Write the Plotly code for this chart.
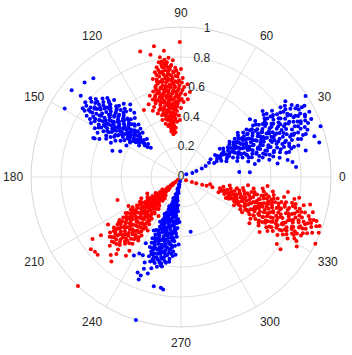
import plotly.graph_objects as go

# ---- angular / radial tick labels ----
ang_tickvals = [0, 30, 60, 90, 120, 150, 180, 210, 240, 270, 300, 330]
ang_ticktext = ["0", "30", "60", "90", "120", "150", "180", "210", "240", "270", "300", "330"]
r_tickvals = [0, 0.2, 0.4, 0.6, 0.8, 1.0]
r_ticktext = ["0", "0.2", "0.4", "0.6", "0.8", "1"]
r_label_angle = 80

# ---- point estimates (theta deg, r) ----
red_top = [
    (100, .29), (97, .30), (102, .31), (99, .32),
    (96, .33), (101, .34), (104, .35), (98, .35), (100, .36),
    (94, .37), (97, .38), (100, .38), (103, .39), (106, .37), (99, .40),
    (92, .41), (95, .42), (98, .43), (101, .41), (104, .42), (107, .43), (100, .44), (96, .45),
    (90, .46), (93, .47), (96, .46), (99, .47), (102, .45), (105, .46), (108, .47), (110, .45), (94, .48), (101, .49),
    (88, .50), (91, .51), (94, .50), (97, .52), (100, .50), (103, .51), (106, .50), (109, .52), (111, .50), (98, .53), (92, .53), (104, .54),
    (87, .55), (90, .56), (93, .55), (96, .56), (99, .55), (102, .57), (105, .55), (108, .56), (110, .55), (95, .58), (101, .59), (106, .58), (89, .58),
    (88, .60), (91, .61), (94, .60), (97, .62), (100, .60), (103, .61), (106, .62), (108, .60), (92, .63), (99, .64), (104, .64), (96, .65),
    (89, .66), (92, .67), (95, .66), (98, .68), (101, .66), (104, .67), (106, .68), (100, .70), (94, .70), (97, .71),
    (90, .72), (93, .73), (96, .72), (99, .74), (102, .73), (104, .72), (95, .75), (100, .76), (97, .77),
    (94, .78), (98, .79), (101, .78), (96, .80),
    (85, .52), (113, .48), (86, .62), (111, .58), (108, .40), (91, .38), (114, .53), (84, .57),
    (100.6, 1.01), (90.5, .90), (108, .88), (101.7, .89), (97.7, .85), (100, .81), (119, .51), (104, .84),
]
red_top_core = [
    (98.5, .31), (101.5, .33), (97.5, .34), (99.5, .37), (102.5, .36), (95.5, .39), (98.5, .41), (101.5, .40),
    (104.5, .40), (96.5, .43), (99.5, .42), (102.5, .44), (93.5, .44), (105.5, .44), (97.5, .46), (100.5, .46),
    (103.5, .48), (95.5, .47), (98.5, .49), (106.5, .48), (92.5, .49), (99.5, .51), (102.5, .52), (95.5, .52),
    (105.5, .52), (89.5, .52), (108.5, .54), (97.5, .54), (100.5, .55), (93.5, .57), (103.5, .56), (98.5, .57),
    (91.5, .59), (96.5, .60), (104.5, .59), (100.5, .58), (107.5, .57), (94.5, .62), (101.5, .62), (98.5, .61),
    (89.5, .63), (105.5, .63), (93.5, .64), (102.5, .65), (97.5, .66), (91.5, .69), (95.5, .68), (99.5, .69),
    (103.5, .70), (92.5, .71), (98.5, .72), (101.5, .71), (95.5, .74), (97.5, .75), (102.5, .75), (99.5, .78),
]
red_top_core2 = [
    (99.2, .335), (97.8, .365), (100.8, .385), (96.2, .405), (102.2, .415), (99.2, .435), (94.8, .455), (101.2, .455),
    (104.2, .465), (97.2, .475), (100.2, .485), (93.2, .505), (96.2, .495), (102.2, .505), (105.2, .515), (98.8, .515),
    (91.2, .545), (94.2, .535), (97.2, .545), (100.2, .535), (103.2, .545), (106.8, .535), (95.8, .565), (101.8, .565),
    (104.8, .575), (92.2, .575), (98.2, .585), (93.8, .605), (96.8, .615), (99.8, .615), (102.8, .605), (105.8, .605),
    (91.2, .645), (95.2, .635), (98.2, .645), (101.2, .645), (104.2, .655), (93.2, .675), (96.2, .685), (99.2, .665),
    (102.2, .685), (94.2, .705), (97.2, .695), (100.2, .715), (96.8, .735), (99.8, .745), (98.2, .765),
]

blue_upper_left = [
    (136, .28), (138, .30), (135, .31), (139, .32),
    (132, .34), (135, .35), (138, .34), (141, .36), (143, .35), (137, .37),
    (131, .39), (134, .40), (137, .41), (140, .39), (143, .40), (146, .41), (136, .43), (142, .43),
    (129, .45), (132, .46), (135, .44), (138, .45), (141, .46), (144, .44), (147, .45), (149, .47), (139, .48), (133, .48),
    (128, .50), (131, .51), (134, .50), (137, .52), (140, .50), (143, .51), (146, .50), (149, .52), (151, .50), (136, .54), (142, .54), (147, .55),
    (127, .56), (130, .57), (133, .56), (136, .58), (139, .56), (142, .57), (145, .56), (148, .58), (151, .57), (153, .56), (138, .60), (144, .60), (132, .60),
    (128, .62), (131, .63), (134, .62), (137, .64), (140, .62), (143, .63), (146, .62), (149, .64), (152, .63), (139, .66), (145, .66), (135, .67),
    (131, .68), (134, .69), (137, .68), (140, .70), (143, .68), (146, .69), (149, .70), (141, .72), (136, .72), (144, .73),
    (135, .74), (138, .75), (141, .74), (144, .76), (147, .75), (140, .78), (143, .79),
    (139, .80), (142, .81), (145, .80),
    (126, .53), (155, .60), (125, .59), (154, .52), (150, .42), (130, .42), (156, .64), (133, .72),
    (139, 1.02), (149.5, .90), (141.6, .93), (135.6, .90), (131.6, .88), (156, .63), (159, .49), (157, .44), (141, .86),
]
blue_upper_left_core = [
    (137.5, .33), (139.5, .38), (135.5, .38), (142.5, .38), (138.5, .42), (133.5, .42), (144.5, .42), (140.5, .44),
    (136.5, .46), (142.5, .47), (145.5, .47), (131.5, .47), (138.5, .50), (135.5, .49), (141.5, .52), (144.5, .53),
    (132.5, .53), (147.5, .52), (139.5, .54), (134.5, .55), (150.5, .54), (137.5, .57), (140.5, .58), (143.5, .58),
    (129.5, .59), (146.5, .59), (149.5, .60), (135.5, .61), (141.5, .61), (132.5, .64), (138.5, .63), (144.5, .64),
    (147.5, .65), (150.5, .66), (136.5, .66), (142.5, .67), (133.5, .70), (139.5, .71), (145.5, .71), (147.5, .72),
    (138.5, .73), (142.5, .76), (137.5, .77), (145.5, .78),
]
blue_upper_left_core2 = [
    (138.2, .355), (136.2, .395), (140.8, .405), (134.8, .435), (138.8, .445), (142.8, .445), (137.2, .475), (140.2, .465),
    (144.2, .485), (134.2, .495), (139.8, .505), (142.8, .495), (146.8, .505), (132.8, .515), (137.2, .515), (140.8, .535),
    (145.2, .545), (135.2, .535), (138.2, .555), (143.2, .555), (148.2, .565), (131.8, .575), (134.8, .585), (141.2, .595),
    (146.2, .605), (137.2, .605), (144.2, .615), (133.2, .625), (139.2, .635), (142.2, .645), (148.2, .625), (135.8, .655),
    (141.2, .675), (145.2, .665), (138.2, .685), (134.2, .675), (143.2, .705), (147.2, .685), (137.2, .705), (141.8, .735),
    (139.2, .755), (144.2, .745),
]

blue_right = [
    (28, .04), (19, .08), (21, .11), (22, .15), (24, .18), (27, .21), (31, .23), (23, .24),
    (24, .26), (27, .27), (30, .28), (33, .27), (28, .30), (22, .29),
    (19, .32), (22, .33), (25, .34), (28, .32), (31, .33), (34, .34), (36, .32), (26, .36),
    (16, .39), (19, .40), (22, .41), (25, .39), (28, .40), (31, .41), (34, .39), (36, .40), (21, .43), (27, .43), (32, .44),
    (13, .46), (16, .47), (19, .46), (22, .48), (25, .46), (28, .47), (31, .48), (34, .46), (36, .47), (18, .50), (24, .50), (30, .51), (33, .50),
    (12, .53), (15, .54), (18, .53), (21, .55), (24, .53), (27, .54), (30, .55), (33, .53), (36, .54), (16, .57), (22, .57), (28, .58), (34, .57), (25, .59),
    (11, .60), (14, .61), (17, .60), (20, .62), (23, .60), (26, .61), (29, .62), (32, .60), (35, .61), (37, .62), (15, .64), (21, .65), (27, .64), (33, .65), (24, .66),
    (11, .67), (14, .68), (17, .67), (20, .69), (23, .67), (26, .68), (29, .69), (32, .67), (35, .68), (37, .69), (18, .71), (24, .72), (30, .71), (34, .72), (13, .72),
    (13, .74), (16, .75), (19, .74), (22, .76), (25, .74), (28, .75), (31, .76), (34, .74), (36, .75), (21, .79), (27, .78), (33, .79), (15, .78),
    (15, .81), (18, .82), (21, .81), (24, .83), (27, .81), (30, .82), (33, .83), (35, .81), (22, .86), (28, .85), (32, .86), (19, .86),
    (19, .88), (22, .89), (25, .88), (28, .90), (31, .89), (33, .88), (26, .92), (30, .93), (23, .92),
    (24, .95), (27, .96), (30, .95),
    (8, .65), (9, .72), (40, .60), (39, .70), (12, .85), (36, .86), (10, .50), (38, .48),
    (26.7, 1.02), (20, .99), (5, .77), (7.6, .75), (5, .39), (4, .46), (14, .95), (33, .99), (17, .93),
]
blue_right_core = [
    (25.5, .29), (29.5, .31), (23.5, .35), (29.5, .36), (32.5, .37), (20.5, .37), (26.5, .38), (23.5, .42),
    (29.5, .42), (33.5, .42), (17.5, .43), (25.5, .44), (20.5, .45), (30.5, .45), (35.5, .44), (27.5, .49),
    (23.5, .48), (15.5, .49), (32.5, .48), (20.5, .51), (26.5, .52), (29.5, .52), (35.5, .51), (13.5, .56),
    (19.5, .56), (25.5, .56), (31.5, .56), (23.5, .58), (17.5, .59), (29.5, .59), (35.5, .59), (12.5, .63),
    (18.5, .63), (24.5, .63), (30.5, .63), (21.5, .67), (27.5, .66), (33.5, .67), (15.5, .69), (24.5, .70),
    (30.5, .70), (36.5, .71), (18.5, .73), (27.5, .73), (33.5, .73), (21.5, .73), (14.5, .76), (24.5, .77),
    (30.5, .77), (18.5, .78), (26.5, .80), (20.5, .80), (32.5, .81), (17.5, .84), (23.5, .85), (29.5, .84),
    (34.5, .84), (25.5, .86), (20.5, .90), (27.5, .88), (31.5, .91), (24.5, .91),
]
blue_right_core2 = [
    (26.8, .335), (24.2, .395), (30.2, .385), (27.8, .415), (21.2, .425), (32.2, .435), (24.8, .455), (28.8, .455),
    (18.2, .465), (33.2, .465), (26.2, .485), (21.8, .495), (30.2, .495), (17.2, .525), (23.8, .525), (28.2, .535),
    (32.8, .525), (20.2, .545), (26.2, .555), (34.2, .555), (14.8, .585), (21.2, .585), (27.2, .595), (31.8, .585),
    (18.8, .615), (24.8, .615), (29.2, .615), (33.8, .625), (15.8, .645), (22.2, .645), (26.2, .655), (31.2, .655),
    (19.2, .675), (24.2, .685), (28.8, .675), (34.2, .695), (16.2, .715), (21.2, .705), (26.8, .715), (31.8, .725),
    (23.2, .745), (29.2, .745), (17.2, .755), (33.2, .765), (20.2, .775), (26.2, .765), (23.2, .805), (29.2, .795),
    (30.8, .825), (26.2, .835), (20.8, .835), (28.2, .865), (24.2, .875), (29.8, .905), (26.8, .925),
]

red_lower_right = [
    (-33, .04), (-24, .08), (-22, .11), (-20, .15), (-19, .18), (-18, .22), (-14, .20),
    (-22, .27), (-19, .28), (-16, .27), (-13, .29), (-20, .31), (-17, .30),
    (-25, .33), (-22, .34), (-19, .33), (-16, .35), (-13, .34), (-10, .33), (-18, .37), (-23, .37),
    (-28, .40), (-25, .41), (-22, .40), (-19, .42), (-16, .41), (-13, .40), (-10, .42), (-21, .44), (-15, .44), (-26, .44),
    (-30, .47), (-27, .48), (-24, .47), (-21, .49), (-18, .48), (-15, .47), (-12, .48), (-9, .49), (-25, .51), (-19, .51), (-13, .52), (-22, .53),
    (-31, .54), (-28, .55), (-25, .54), (-22, .56), (-19, .55), (-16, .54), (-13, .55), (-10, .56), (-8, .55), (-26, .58), (-20, .58), (-14, .59), (-23, .60), (-17, .60),
    (-32, .61), (-29, .62), (-26, .61), (-23, .63), (-20, .62), (-17, .61), (-14, .62), (-11, .63), (-9, .62), (-27, .65), (-21, .66), (-15, .65), (-24, .67), (-18, .67),
    (-32, .68), (-29, .69), (-26, .68), (-23, .70), (-20, .69), (-17, .68), (-14, .69), (-11, .70), (-28, .72), (-22, .73), (-16, .72), (-19, .74), (-25, .74),
    (-31, .75), (-28, .76), (-25, .75), (-22, .77), (-19, .76), (-16, .75), (-13, .76), (-11, .77), (-27, .79), (-21, .80), (-15, .79), (-24, .81),
    (-30, .82), (-27, .83), (-24, .82), (-21, .84), (-18, .83), (-15, .82), (-13, .84), (-26, .86), (-20, .87), (-16, .86),
    (-29, .88), (-26, .89), (-23, .88), (-20, .90), (-17, .89), (-15, .91), (-24, .92), (-21, .93),
    (-23, .95), (-20, .96), (-18, .95),
    (-6, .58), (-35, .64), (-35, .78), (-8, .72), (-34, .55), (-12, .88), (-7, .45), (-31, .90),
    (-26.4, 1.0), (-19.5, .98), (-22, .99), (-18, .93), (-36, .82), (-10, .80),
]
red_lower_right_core = [
    (-18.5, .29), (-21.5, .31), (-15.5, .32), (-20.5, .35), (-24.5, .35), (-14.5, .37), (-17.5, .39), (-21.5, .38),
    (-11.5, .38), (-24.5, .39), (-19.5, .44), (-23.5, .42), (-12.5, .43), (-17.5, .45), (-28.5, .45), (-22.5, .46),
    (-15.5, .50), (-20.5, .50), (-26.5, .49), (-11.5, .50), (-28.5, .52), (-17.5, .53), (-23.5, .54), (-14.5, .57),
    (-20.5, .56), (-29.5, .57), (-11.5, .58), (-25.5, .57), (-17.5, .58), (-21.5, .60), (-30.5, .60), (-12.5, .60),
    (-18.5, .64), (-24.5, .63), (-28.5, .64), (-15.5, .63), (-21.5, .64), (-12.5, .66), (-26.5, .67), (-30.5, .66),
    (-20.5, .71), (-24.5, .70), (-17.5, .70), (-13.5, .72), (-30.5, .71), (-26.5, .72), (-23.5, .76), (-18.5, .78),
    (-29.5, .78), (-14.5, .77), (-25.5, .78), (-21.5, .78), (-19.5, .81), (-28.5, .80), (-16.5, .81), (-22.5, .86),
    (-25.5, .84), (-18.5, .85), (-28.5, .86), (-22.5, .90), (-19.5, .92),
]
red_lower_right_core2 = [
    (-19.8, .315), (-17.2, .345), (-22.8, .355), (-19.2, .375), (-15.2, .405), (-20.2, .395), (-25.8, .425), (-17.8, .425),
    (-21.8, .435), (-13.8, .455), (-19.8, .465), (-24.8, .465), (-16.8, .485), (-22.2, .485), (-27.2, .505), (-13.2, .505),
    (-18.8, .525), (-24.2, .525), (-15.8, .545), (-21.2, .545), (-27.8, .545), (-12.8, .565), (-18.2, .565), (-23.8, .575),
    (-29.2, .595), (-15.8, .605), (-19.2, .605), (-26.2, .605), (-22.8, .625), (-13.2, .635), (-17.2, .635), (-27.2, .635),
    (-20.2, .655), (-24.2, .655), (-15.2, .675), (-29.2, .675), (-22.2, .685), (-18.2, .695), (-26.2, .705), (-14.8, .715),
    (-21.8, .715), (-28.2, .745), (-17.2, .745), (-24.2, .745), (-20.2, .765), (-13.2, .785), (-26.8, .775), (-22.2, .805),
    (-17.8, .795), (-25.2, .815), (-20.2, .835), (-16.2, .835), (-23.2, .855), (-27.2, .845), (-20.8, .885), (-24.8, .895),
    (-18.2, .905),
]

red_lower_left = [
    (221, .03), (223, .05), (219, .07), (224, .08), (221, .10), (218, .11), (226, .12), (222, .13),
    (214, .15), (218, .16), (222, .15), (226, .17), (230, .16), (220, .18), (233, .18), (216, .19),
    (212, .20), (216, .21), (220, .20), (224, .22), (228, .21), (232, .20), (222, .23), (218, .24), (226, .24),
    (211, .26), (214, .27), (217, .26), (220, .28), (223, .27), (226, .26), (229, .28), (232, .27), (235, .26), (219, .30), (225, .30), (231, .31), (213, .31),
    (211, .32), (214, .33), (217, .32), (220, .34), (223, .33), (226, .32), (229, .34), (232, .33), (235, .34), (222, .36), (228, .36), (216, .37), (233, .37),
    (212, .38), (215, .39), (218, .38), (221, .40), (224, .39), (227, .38), (230, .40), (233, .39), (236, .38), (219, .42), (225, .42), (231, .43), (214, .43),
    (213, .44), (216, .45), (219, .44), (222, .46), (225, .45), (228, .44), (231, .46), (234, .45), (236, .47), (220, .48), (226, .49), (232, .49), (217, .49),
    (215, .50), (218, .51), (221, .50), (224, .52), (227, .51), (230, .50), (233, .52), (236, .51), (222, .54), (228, .55), (219, .55), (234, .55),
    (217, .56), (220, .57), (223, .56), (226, .58), (229, .57), (232, .56), (224, .60), (221, .61), (228, .61), (218, .60),
    (220, .62), (223, .63), (226, .62), (229, .64), (224, .66),
    (208, .30), (209, .40), (206, .25), (238, .42), (240, .30), (213, .58), (235, .60), (216, .66), (230, .67),
    (226.6, 1.0), (218.7, .77), (221, .76), (223, .76), (235, .64), (230.5, .73), (200, .45), (215, .72), (228, .70),
]
red_lower_left_core = [
    (220, .09), (223, .11), (225, .14), (220, .14), (217, .17), (224, .18), (228, .19), (219, .21),
    (214, .23), (226, .21), (230, .23), (221, .25), (216, .25), (229, .25), (233, .24), (218, .28),
    (224, .29), (228, .30), (215, .29), (221, .31), (234, .30), (227, .33), (218, .34), (224, .35),
    (213, .35), (231, .35), (220, .37), (226, .38), (234, .36), (217, .40), (223, .41), (229, .41),
    (213, .40), (235, .41), (221, .43), (227, .44), (233, .43), (218, .46), (224, .47), (230, .47),
    (215, .47), (223, .49), (229, .49), (235, .49), (220, .52), (226, .53), (231, .53), (217, .53),
    (224, .55), (230, .58), (226, .56), (221, .58), (222, .60),
]
red_lower_left_core2 = [
    (222.2, .065), (220.2, .085), (224.2, .105), (219.2, .125), (223.2, .155), (227.2, .155), (215.8, .175), (221.2, .195),
    (225.8, .195), (231.2, .185), (217.2, .225), (223.2, .245), (227.8, .225), (214.2, .255), (220.2, .265), (230.2, .265),
    (225.2, .275), (216.2, .295), (222.2, .295), (233.2, .295), (218.8, .325), (225.8, .345), (231.8, .325), (215.2, .355),
    (221.8, .355), (228.8, .375), (218.2, .395), (224.2, .375), (232.2, .405), (215.8, .415), (226.2, .415), (221.2, .445),
    (229.2, .435), (234.2, .425), (217.8, .435), (224.2, .455), (232.8, .465), (219.2, .475), (227.2, .475), (222.2, .505),
    (228.2, .525), (216.2, .515), (233.2, .505), (219.8, .535), (225.2, .545), (229.8, .555), (222.8, .575), (218.8, .575),
    (226.8, .595), (224.2, .625),
]

blue_bottom = [
    (258, .03), (256, .05), (259, .07), (254, .08), (257, .10), (261, .11), (253, .12), (258, .13),
    (250, .15), (253, .16), (256, .15), (259, .17), (262, .16), (255, .18), (264, .19), (251, .19),
    (248, .21), (251, .22), (254, .21), (257, .23), (260, .22), (263, .21), (265, .23), (253, .24), (259, .25),
    (246, .27), (249, .28), (252, .27), (255, .29), (258, .28), (261, .27), (264, .29), (266, .28), (250, .31), (256, .31), (262, .31),
    (245, .33), (248, .34), (251, .33), (254, .35), (257, .34), (260, .33), (263, .35), (266, .34), (249, .37), (255, .37), (261, .37), (265, .38),
    (245, .39), (248, .40), (251, .39), (254, .41), (257, .40), (260, .39), (263, .41), (266, .40), (250, .43), (256, .43), (262, .43), (247, .44),
    (245, .45), (248, .46), (251, .45), (254, .47), (257, .46), (260, .45), (263, .47), (265, .46), (249, .49), (255, .49), (261, .49), (258, .50),
    (246, .51), (249, .52), (252, .51), (255, .53), (258, .52), (261, .51), (264, .53), (250, .55), (256, .55), (262, .55), (253, .56),
    (248, .57), (251, .58), (254, .57), (257, .59), (260, .58), (262, .57), (253, .60), (258, .61), (255, .62),
    (243, .40), (242, .50), (268, .30), (268, .45), (244, .58), (266, .52), (247, .62),
    (261, .76), (252.5, 1.0), (280, .37), (256, .75), (259.7, .75), (245.6, .70), (247.8, .71), (251, .68), (241.4, .58), (248, .66), (239, .61), (247.6, .74), (252, .64),
]
blue_bottom_core = [
    (256, .09), (258, .12), (255, .14), (260, .14), (252, .17), (257, .19), (261, .20), (254, .20),
    (249, .23), (256, .24), (262, .24), (251, .26), (257, .26), (263, .26), (248, .29), (253, .30),
    (259, .30), (265, .31), (247, .31), (251, .35), (256, .33), (262, .33), (247, .36), (253, .38),
    (259, .38), (264, .37), (249, .41), (255, .39), (261, .41), (246, .42), (253, .44), (259, .44),
    (264, .43), (251, .47), (256, .47), (262, .46), (246, .48), (253, .49), (259, .48), (264, .50),
    (248, .51), (254, .51), (260, .53), (251, .54), (257, .56), (249, .55), (259, .57), (252, .59),
    (256, .59), (250, .60),
]
blue_bottom_core2 = [
    (257.2, .055), (255.2, .085), (259.2, .095), (256.2, .115), (252.2, .145), (257.8, .155), (254.2, .175), (260.2, .185),
    (250.2, .205), (256.2, .205), (262.2, .205), (253.2, .235), (259.2, .235), (248.2, .255), (254.8, .255), (260.8, .265),
    (251.2, .285), (257.2, .295), (263.2, .295), (249.2, .325), (254.2, .315), (260.2, .325), (252.2, .355), (258.2, .355),
    (264.2, .355), (247.2, .385), (251.8, .375), (256.8, .385), (261.2, .385), (249.8, .415), (253.8, .425), (258.2, .415),
    (263.2, .425), (248.2, .445), (255.8, .445), (260.8, .455), (251.2, .465), (257.8, .475), (247.8, .475), (253.8, .495),
    (261.8, .485), (250.2, .505), (256.2, .515), (262.8, .515), (253.2, .535), (258.2, .545), (248.2, .535), (255.2, .575),
    (251.2, .565), (257.2, .605),
]

RED = "#ff0000"
BLUE = "#0000ff"
series = [
    (red_top + red_top_core + red_top_core2, RED),
    (red_lower_right + red_lower_right_core + red_lower_right_core2, RED),
    (red_lower_left + red_lower_left_core + red_lower_left_core2, RED),
    (blue_upper_left + blue_upper_left_core + blue_upper_left_core2, BLUE),
    (blue_right + blue_right_core + blue_right_core2, BLUE),
    (blue_bottom + blue_bottom_core + blue_bottom_core2, BLUE),
]

fig = go.Figure()
for pts, col in series:
    fig.add_trace(go.Scatterpolar(
        theta=[p[0] for p in pts], r=[p[1] for p in pts],
        mode="markers", marker=dict(size=4, color=col, line=dict(width=0)),
        cliponaxis=False, hoverinfo="skip",
    ))

# radial tick labels centred on the r-axis at 80 degrees
fig.add_trace(go.Scatterpolar(
    theta=[r_label_angle] * len(r_tickvals), r=r_tickvals, text=r_ticktext,
    mode="text", textposition="middle center",
    textfont=dict(family="Liberation Sans, Arial, sans-serif", size=12, color="#262626"),
    cliponaxis=False, hoverinfo="skip",
))

W, H = 352, 355
GRID = "#dfdfdf"
fig.update_layout(
    template="none",
    width=W, height=H,
    margin=dict(l=0, r=0, t=0, b=0),
    paper_bgcolor="white",
    showlegend=False,
    polar=dict(
        domain=dict(x=[31 / W, 331 / W], y=[(H - 327) / H, (H - 27) / H]),
        bgcolor="white",
        radialaxis=dict(
            range=[0, 1], tickmode="array", tickvals=r_tickvals[1:],
            showticklabels=False, ticks="", showline=False,
            gridcolor=GRID, gridwidth=1, angle=r_label_angle, layer="below traces",
        ),
        angularaxis=dict(
            tickmode="array", tickvals=ang_tickvals, ticktext=ang_ticktext,
            direction="counterclockwise", rotation=0,
            gridcolor=GRID, gridwidth=1, showline=True, linecolor="#d6d6d6", linewidth=1,
            ticks="outside", ticklen=5, tickcolor="rgba(0,0,0,0)", layer="below traces",
            tickfont=dict(family="Liberation Sans, Arial, sans-serif", size=12, color="#262626"),
        ),
    ),
)

# remove the default 8px page margin so the figure sits at the window's corner
fig.write_html("out.html", config={"displayModeBar": False},
               post_script="document.body.style.margin='0';")
